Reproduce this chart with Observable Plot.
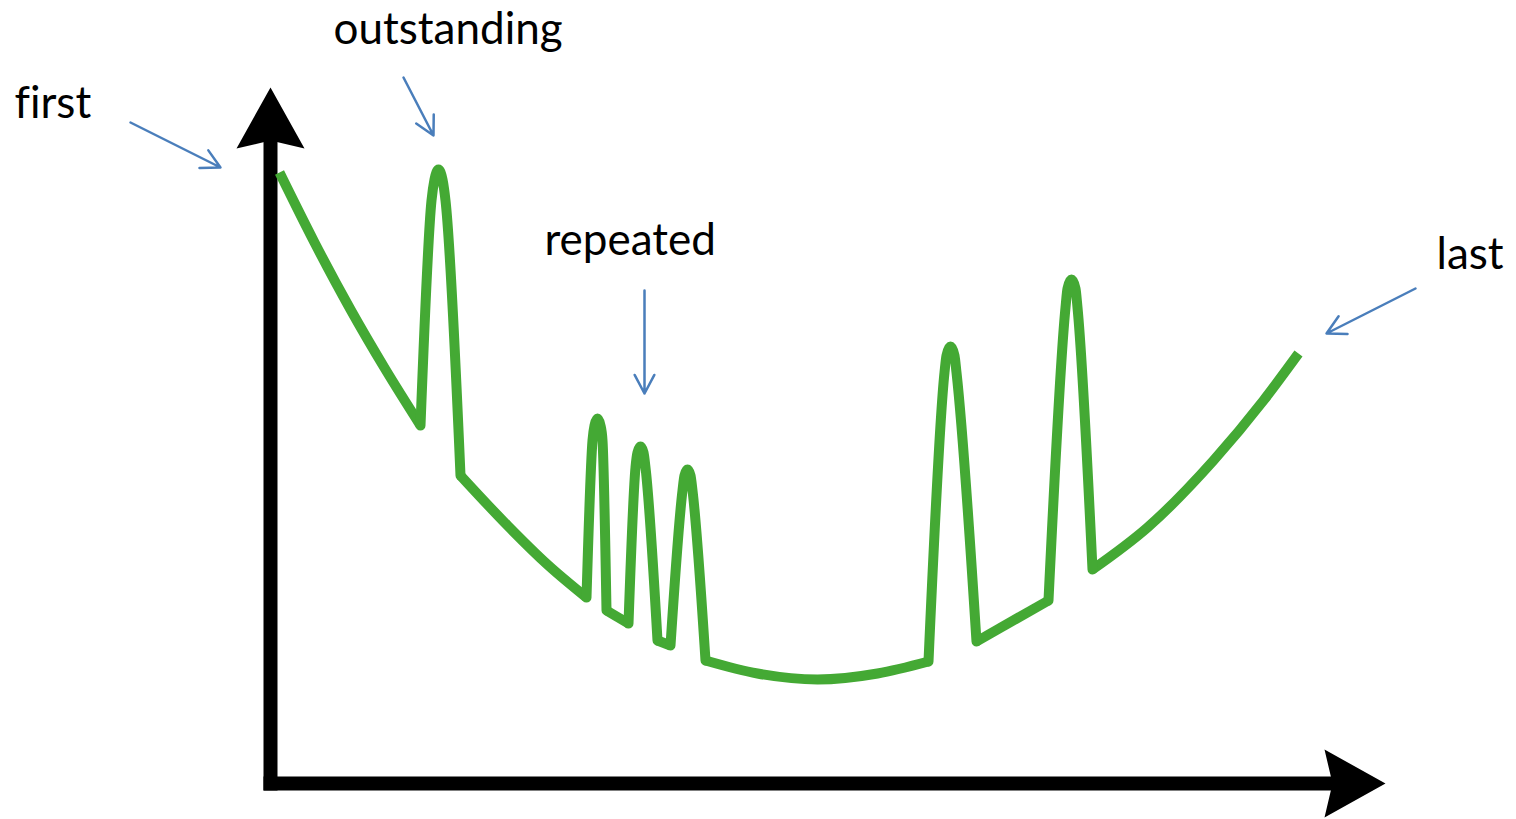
<!DOCTYPE html>
<html>
<head>
<meta charset="utf-8">
<script src="https://cdn.jsdelivr.net/npm/d3@7"></script>
<script src="https://cdn.jsdelivr.net/npm/@observablehq/plot@0.6"></script>
<style>
  html, body { margin: 0; padding: 0; background: #fff; overflow: hidden; }
  svg { display: block; }
  svg text { font-variant-ligatures: none; font-feature-settings: "liga" 0; }
</style>
</head>
<body>
<div id="chart"></div>
<script>
// Green curve (x: along the time axis, y: height above it)
// Smooth baseline pieces between the spikes
const basePieces = [
  [[9, 611], [44, 541], [80, 474], [115, 414], [150, 358]],
  [[190, 308], [237, 258], [278, 218], [316, 186]],
  [[336, 173], [358, 160]],
  [[387, 143], [400, 138]],
  [[435, 123], [487, 110], [547, 104], [607, 110], [658, 122]],
  [[706, 142], [778, 183]],
  [[822, 214], [877, 256], [943, 323], [993, 383], [1028, 430]]
];
// Spikes (outstanding, three repeated, two later ones)
const spikes = [
  [[150, 358], [161, 583], [164, 604], [168, 614], [172, 604], [175, 583], [190, 308]],
  [[316, 186], [322, 343], [324, 358], [327, 365], [330, 358], [332, 343], [336, 173]],
  [[358, 160], [365, 316], [367, 331], [370, 337], [373, 331], [375, 316], [387, 143]],
  [[400, 138], [412, 293], [414, 308], [417, 314], [420, 308], [422, 293], [435, 123]],
  [[658, 122], [674, 411], [676, 428], [680, 437], [684, 428], [686, 411], [706, 142]],
  [[778, 183], [795, 476], [797, 495], [801, 504], [805, 495], [807, 476], [822, 214]]
];

// Axes (start and tip of each arrow)
const axes = [
  {name: "value", x1: 0, y1: -7, x2: 0, y2: 696},
  {name: "time", x1: -7, y1: 0, x2: 1115, y2: 0}
];
const axisRotate = [0, 90];

// Annotations
const labels = ["first", "outstanding", "repeated", "last"];
const labelX = [-256, 63, 274, 1166];
const labelY = [666, 740, 529, 515];
const pointerX1 = [-140, 133, 374, 1145];
const pointerY1 = [661, 706, 493, 495];
const pointerX2 = [-50, 163, 374, 1056];
const pointerY2 = [616, 648, 390, 450];

const toRows = (pieces) => pieces.flatMap((p, k) => p.map(([x, y]) => ({x, y, k})));
const base = toRows(basePieces);
const peaks = toRows(spikes);
const notes = labels.map((t, i) => ({
  t, x: labelX[i], y: labelY[i],
  x1: pointerX1[i], y1: pointerY1[i], x2: pointerX2[i], y2: pointerY2[i]
}));
const heads = axes.map((a, i) => ({x: a.x2, y: a.y2, r: axisRotate[i]}));

const arrowHead = {
  draw(ctx) {
    ctx.moveTo(0, 0);
    ctx.lineTo(34, 61);
    ctx.lineTo(0, 53);
    ctx.lineTo(-34, 61);
    ctx.closePath();
  }
};

const green = "#44a934";
const plot = Plot.plot({
  width: 1516,
  height: 819,
  margin: 0,
  style: {fontFamily: "Lato, 'Open Sans', sans-serif", background: "#fff"},
  x: {domain: [-270, 1246], range: [0, 1516], axis: null},
  y: {domain: [-36, 783], range: [819, 0], axis: null},
  marks: [
    Plot.arrow(axes, {x1: "x1", y1: "y1", x2: "x2", y2: "y2", stroke: "#000", strokeWidth: 14, headLength: 0, insetEnd: 40, strokeLinecap: "butt"}),
    Plot.dot(heads, {x: "x", y: "y", rotate: "r", symbol: arrowHead, fill: "#000", stroke: "none"}),
    Plot.line(base, {x: "x", y: "y", z: "k", curve: "monotone-x", stroke: green, strokeWidth: 10, strokeLinejoin: "round", strokeLinecap: "butt"}),
    Plot.line(peaks, {x: "x", y: "y", z: "k", curve: "monotone-x", stroke: green, strokeWidth: 10, strokeLinejoin: "round", strokeLinecap: "round"}),
    Plot.arrow(notes, {x1: "x1", y1: "y1", x2: "x2", y2: "y2", stroke: "#4a7ebb", strokeWidth: 2.5, headLength: 12.6, headAngle: 56}),
    Plot.text(notes, {x: "x", y: "y", text: "t", textAnchor: "start", lineAnchor: "bottom", fontSize: 44, fill: "#000"})
  ]
});
document.getElementById("chart").append(plot);
</script>
</body>
</html>
